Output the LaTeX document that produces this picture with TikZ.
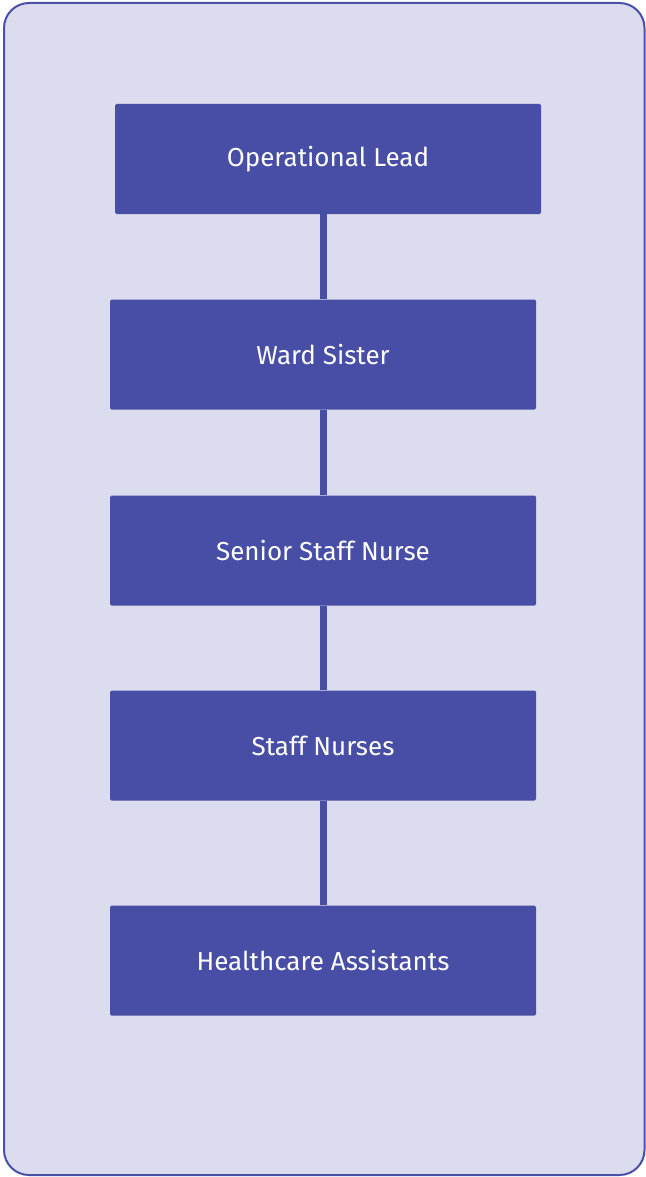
\documentclass[tikz,border=0pt]{standalone}
\usepackage{fontspec}
\setmainfont{Fira Sans}
\definecolor{bgfill}{HTML}{DBDCEE}
\definecolor{frame}{HTML}{4A4FA8}
\definecolor{boxfill}{HTML}{484EA5}
\tikzset{
  rolebox/.style={fill=boxfill, draw=none, rounded corners=1.5pt, text=white,
    minimum width=426pt, minimum height=110pt, inner sep=0pt,
    font=\fontsize{26}{30}\selectfont},
  link/.style={draw=boxfill, line width=7pt}
}
\begin{document}
\begin{tikzpicture}[x=1pt,y=1pt]
\useasboundingbox (0,0) rectangle (645,-1177);
\draw[fill=bgfill, draw=frame, line width=2pt, rounded corners=25pt] (4,-3) rectangle (644.5,-1175);
\node[rolebox] (ol) at (328,-159) {Operational Lead};
\node[rolebox] (ws) at (323,-354.5) {Ward Sister};
\node[rolebox] (ssn) at (323,-550.5) {Senior Staff Nurse};
\node[rolebox] (sn) at (323,-745.5) {Staff Nurses};
\node[rolebox] (hca) at (323,-960.5) {Healthcare Assistants};
\draw[link] (ol.south -| ws.center) -- (ws.north);
\draw[link] (ws.south) -- (ssn.north);
\draw[link] (ssn.south) -- (sn.north);
\draw[link] (sn.south) -- (hca.north);
\end{tikzpicture}
\end{document}
